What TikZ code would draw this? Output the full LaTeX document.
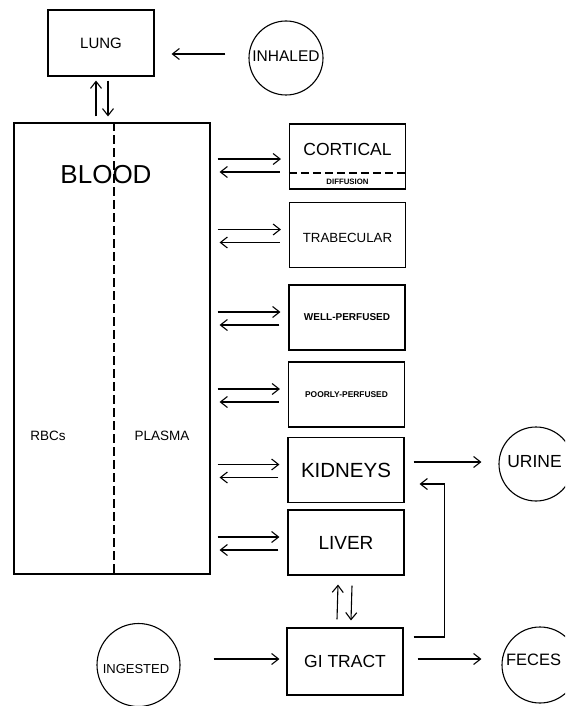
\documentclass[tikz,border=0pt]{standalone}
\usepackage{fontspec}
\setmainfont{Liberation Sans}
\usetikzlibrary{arrows.meta,calc}
\begin{document}
\begin{tikzpicture}[x=1pt,y=-1pt,
  line width=1.1pt,
  organ/.style={draw,inner sep=0pt,minimum width=116pt,minimum height=65pt},
  pool/.style={draw,circle,inner sep=0pt,minimum size=74pt},
  arr/.style={-{Straight Barb[length=7pt,width=11pt,line width=1.1pt]}},
  sep/.style={dash pattern=on 9pt off 4pt}]
\useasboundingbox (0,0) rectangle (565,706);
\clip (0,0) rectangle (565,706);
% nodes
\node[draw,inner sep=0pt,minimum width=106pt,minimum height=66pt] (lung) at (101,43) {};
\node[font=\fontsize{15}{15}\selectfont] (lungt) at (101,43) {LUNG};
\node[pool] (inh) at (286,58) {};
\node[font=\fontsize{15.5}{15}\selectfont] (inht) at (286,56) {INHALED};
\node[draw,inner sep=0pt,minimum width=196pt,minimum height=451pt] (blood) at (112,348.5) {};
\node[font=\fontsize{26}{26}\selectfont] (bloodt) at (106,175) {BLOOD};
\node[font=\fontsize{13.5}{13}\selectfont] (rbc) at (48,436) {RBCs};
\node[font=\fontsize{13.5}{13}\selectfont] (plasma) at (162,436) {PLASMA};
\node[organ] (cort) at (347.5,156.5) {};
\node[font=\fontsize{17.5}{17}\selectfont] (cortt) at (347.5,149) {CORTICAL};
\node[font=\bfseries\fontsize{7.8}{8}\selectfont] (diff) at (347.5,182) {DIFFUSION};
\node[organ] (trab) at (347.5,235) {};
\node[font=\fontsize{13.3}{13}\selectfont] (trabt) at (347.5,238) {TRABECULAR};
\node[organ] (well) at (347,317.5) {\bfseries\fontsize{10}{10}\selectfont WELL-PERFUSED};
\node[organ] (poor) at (346.5,394.5) {\bfseries\fontsize{8.4}{8}\selectfont POORLY-PERFUSED};
\node[organ] (kid) at (346,470) {\fontsize{20.5}{20}\selectfont KIDNEYS};
\node[organ] (liver) at (346,542.5) {\fontsize{19}{19}\selectfont LIVER};
\node[organ,minimum height=67pt] (gi) at (345,661.5) {\fontsize{17.5}{17}\selectfont GI TRACT};
\node[pool] (urine) at (536,464) {};
\node[font=\fontsize{17.5}{17}\selectfont] (urinet) at (534.5,462) {URINE};
\node[pool,minimum size=76pt] (feces) at (540,665) {};
\node[font=\fontsize{16.5}{17}\selectfont] (fecest) at (533.5,660) {FECES};
\node[pool,minimum size=83pt] (ing) at (138.5,665) {};
\node[font=\fontsize{13}{13}\selectfont] (ingt) at (136,669) {INGESTED};
% separators
\draw[sep] ($(blood.north)+(2,0)$) -- ($(blood.south)+(2,0)$);
\draw[dash pattern=on 8pt off 4pt] ($(cort.west)+(0,16.5)$) -- ($(cort.east)+(0,16.5)$);
% inhaled -> lung
\draw[arr] ($(inh.west)+(-23,-4)$) -- ($(lung.east)+(17,11)$);
% lung <-> blood
\draw[arr] ($(blood.north)+(-16,-6)$) -- ($(lung.south)+(-5,4)$);
\draw[arr] ($(lung.south)+(7,4)$) -- ($(blood.north)+(-4,-6)$);
% blood <-> compartments
\draw[arr] ($(blood.east|-cort.west)+(7,2.5)$) -- ($(cort.west)+(-8,2.5)$);
\draw[arr] ($(cort.west)+(-9,15.5)$) -- ($(blood.east|-cort.west)+(9,15.5)$);
\foreach \n in {trab,well,poor,kid,liver}{
  \draw[arr] ($(blood.east|-\n.west)+(7,-5.5)$) -- ($(\n.west)+(-8,-5.5)$);
  \draw[arr] ($(\n.west)+(-9,7.5)$) -- ($(blood.east|-\n.west)+(9,7.5)$);
}
% liver <-> gi
\draw[arr] ($(gi.north)+(-8,-8)$) -- ($(liver.south)+(-8,9)$);
\draw[arr] ($(liver.south)+(6,10)$) -- ($(gi.north)+(6,-7)$);
% outputs
\draw[arr] ($(kid.east)+(9,-8)$) -- ($(urine.west)+(-17,-2)$);
\draw[arr] ($(ing.east)+(33,-6)$) -- ($(gi.west)+(-7,-2.5)$);
\draw[arr] ($(gi.east)+(14,-2.5)$) -- ($(feces.west)+(-20,-6)$);
\draw[arr] ($(gi.east)+(10,-24.5)$) -| ($(kid.east)+(40,14)$) -- ($(kid.east)+(15,14)$);
\end{tikzpicture}
\end{document}
